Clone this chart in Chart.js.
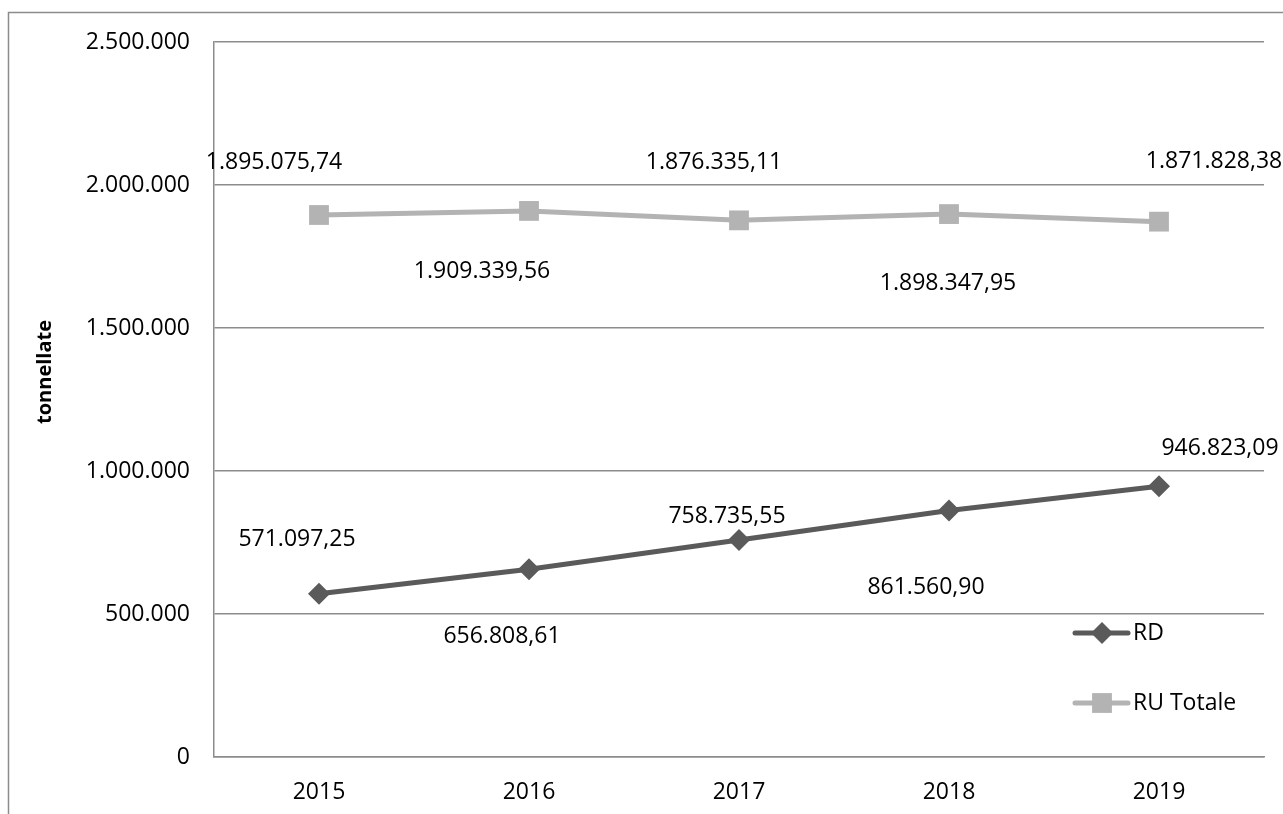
<!DOCTYPE html>
<html>
<head>
<meta charset="utf-8">
<script src="https://cdn.jsdelivr.net/npm/chart.js@4.4.0/dist/chart.umd.min.js"></script>
<style>
  html, body { margin: 0; padding: 0; background: #fff; }
</style>
</head>
<body>
<canvas id="myChart" width="1283" height="814"></canvas>
<script>
// data
const years = ["2015", "2016", "2017", "2018", "2019"];
const rd_values = [571097.25, 656808.61, 758735.55, 861560.90, 946823.09];
const ru_values = [1895075.74, 1909339.56, 1876335.11, 1898347.95, 1871828.38];
const y_max = 2500000;
const y_step = 500000;

// where the value labels sit relative to their points (dx, dy)
const rd_label_offsets = [[-22, -54], [-27, 67], [-12, -24], [-23, 77], [61, -38]];
const ru_label_offsets = [[-45, -53], [-47, 61], [-25, -58], [-1, 69], [55, -60]];

const font_family = '"Open Sans", "Noto Sans", sans-serif';
const rd_color = "#5a5a5a";
const ru_color = "#b3b3b3";
const grid_color = "#8c8c8c";

function fmt_number(v, dec) {
  let parts = v.toFixed(dec).split(".");
  let int_part = parts[0].replace(/\B(?=(\d{3})+(?!\d))/g, ".");
  return dec ? int_part + "," + parts[1] : int_part;
}

function draw_marker(ctx, style, x, y, r, color) {
  ctx.save();
  ctx.fillStyle = color;
  ctx.beginPath();
  if (style == "rectRot") {
    ctx.moveTo(x - r, y);
    ctx.lineTo(x, y - r);
    ctx.lineTo(x + r, y);
    ctx.lineTo(x, y + r);
    ctx.closePath();
  } else {
    let s = Math.SQRT1_2 * r;
    ctx.rect(x - s, y - s, 2 * s, 2 * s);
  }
  ctx.fill();
  ctx.restore();
}

const extras = {
  id: "extras",
  beforeDraw(chart) {
    let ctx = chart.ctx;
    // outer frame (cut off at right and bottom)
    ctx.save();
    ctx.strokeStyle = grid_color;
    ctx.lineWidth = 1.5;
    ctx.beginPath();
    ctx.moveTo(8.5, 900);
    ctx.lineTo(8.5, 12.5);
    ctx.lineTo(1300, 12.5);
    ctx.stroke();
    ctx.restore();
  },
  afterDatasetsDraw(chart) {
    let ctx = chart.ctx;
    ctx.save();
    ctx.font = "23px " + font_family;
    ctx.fillStyle = "#000";
    ctx.textAlign = "center";
    ctx.textBaseline = "middle";
    let offsets = [rd_label_offsets, ru_label_offsets];
    chart.data.datasets.forEach((ds, i) => {
      let meta = chart.getDatasetMeta(i);
      meta.data.forEach((pt, j) => {
        let off = offsets[i][j];
        ctx.fillText(fmt_number(ds.data[j], 2), pt.x + off[0], pt.y + off[1]);
      });
    });

    // legend, inside the plot at bottom right
    let legend_y = [633, 703];
    chart.data.datasets.forEach((ds, i) => {
      let y = legend_y[i];
      ctx.strokeStyle = ds.borderColor;
      ctx.lineWidth = 5;
      ctx.lineCap = "round";
      ctx.beginPath();
      ctx.moveTo(1075, y);
      ctx.lineTo(1128, y);
      ctx.stroke();
      draw_marker(ctx, ds.pointStyle, 1102, y, ds.pointRadius, ds.pointBackgroundColor);
      ctx.fillStyle = "#000";
      ctx.textAlign = "left";
      ctx.fillText(ds.label, 1133, y);
    });

    // y axis title
    ctx.translate(45, 372);
    ctx.rotate(-Math.PI / 2);
    ctx.font = "bold 20px " + font_family;
    ctx.textAlign = "center";
    ctx.fillText("tonnellate", 0, 0);
    ctx.restore();
  }
};

let ctx = document.getElementById("myChart").getContext("2d");
let myChart = new Chart(ctx, {
  type: "line",
  data: {
    labels: years,
    datasets: [
      {
        label: "RD",
        data: rd_values,
        borderColor: rd_color,
        backgroundColor: rd_color,
        pointBackgroundColor: rd_color,
        pointBorderWidth: 0,
        borderWidth: 5,
        pointStyle: "rectRot",
        pointRadius: 11,
        tension: 0,
      },
      {
        label: "RU Totale",
        data: ru_values,
        borderColor: ru_color,
        backgroundColor: ru_color,
        pointBackgroundColor: ru_color,
        pointBorderWidth: 0,
        borderWidth: 5,
        pointStyle: "rect",
        pointRadius: 14,
        tension: 0,
      },
    ],
  },
  options: {
    responsive: false,
    animation: false,
    devicePixelRatio: 1,
    layout: { padding: { top: 42, right: 19, left: 0, bottom: 0 } },
    plugins: {
      legend: { display: false },
      tooltip: { enabled: false },
    },
    scales: {
      x: {
        offset: true,
        grid: { display: false, drawTicks: false },
        border: { color: grid_color, width: 1.5 },
        ticks: {
          color: "#000",
          padding: 22,
          font: { family: font_family, size: 23 },
          maxRotation: 0,
        },
        afterFit(scale) { scale.height = 57; },
      },
      y: {
        min: 0,
        max: y_max,
        grid: { color: grid_color, lineWidth: 1.5, drawTicks: false },
        border: { color: grid_color, width: 1.5 },
        ticks: {
          stepSize: y_step,
          color: "#000",
          padding: 24,
          font: { family: font_family, size: 23 },
          callback: (v) => fmt_number(v, 0),
        },
        afterFit(scale) { scale.width = 214; },
      },
    },
  },
  plugins: [extras],
});
</script>
</body>
</html>
